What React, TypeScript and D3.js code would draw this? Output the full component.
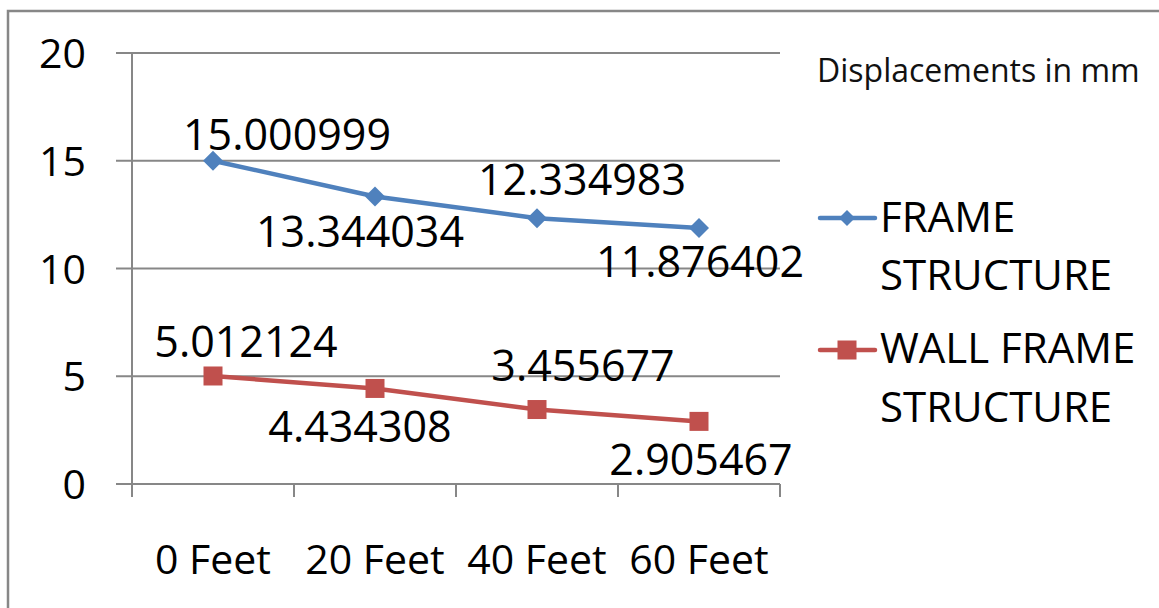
import React from "react";
import * as d3 from "d3";

// Chart data
const categories = ["0 Feet", "20 Feet", "40 Feet", "60 Feet"];
const frameValues = [15.000999, 13.344034, 12.334983, 11.876402];
const wallFrameValues = [5.012124, 4.434308, 3.455677, 2.905467];
const seriesNames = ["FRAME STRUCTURE", "WALL FRAME STRUCTURE"];
const yTicks = [0, 5, 10, 15, 20];
const chartTitle = "Displacements in mm";

// Layout
const W = 1159;
const H = 608;
const plot = { left: 132, right: 780, top: 53, bottom: 484 };
const FONT = "'Open Sans', 'Liberation Sans', sans-serif";
const BLUE = "#4F81BD";
const RED = "#C0504D";
const GRID = "#878787";

// Manual placement of the data labels (offset of the text anchor from each point)
const frameLabelOffsets = [
  [74, -11],
  [-15, 51],
  [45, -23],
  [1, 49],
];
const wallLabelOffsets = [
  [33, -19],
  [-15, 54],
  [46, -29],
  [2, 54],
];

export default function App() {
  const x = d3
    .scaleBand<string>()
    .domain(categories)
    .range([plot.left, plot.right]);
  const y = d3.scaleLinear().domain([0, 20]).range([plot.bottom, plot.top]);
  const cx = (c: string) => (x(c) ?? 0) + x.bandwidth() / 2;

  const line = d3
    .line<number>()
    .x((_, i) => cx(categories[i]))
    .y((v) => y(v));

  const boundaries = [...categories.map((c) => x(c) ?? 0), plot.right];

  const diamond = (px: number, py: number, r: number) =>
    `M${px},${py - r}L${px + r},${py}L${px},${py + r}L${px - r},${py}Z`;

  return (
    <svg
      width={W}
      height={H}
      style={{ position: "absolute", left: 0, top: 0, background: "#fff" }}
      fontFamily={FONT}
    >
      {/* chart frame */}
      <rect
        x={8}
        y={11}
        width={W + 20}
        height={H + 20}
        fill="none"
        stroke={GRID}
        strokeWidth={2.5}
      />

      {/* horizontal gridlines with left ticks */}
      {yTicks.map((t) => (
        <line
          key={"g" + t}
          x1={116}
          x2={plot.right}
          y1={y(t)}
          y2={y(t)}
          stroke={GRID}
          strokeWidth={2}
        />
      ))}
      {/* y axis */}
      <line
        x1={plot.left}
        x2={plot.left}
        y1={plot.top}
        y2={plot.bottom + 13}
        stroke={GRID}
        strokeWidth={2}
      />
      {/* category boundary ticks */}
      {boundaries.map((b, i) => (
        <line
          key={"xt" + i}
          x1={b}
          x2={b}
          y1={plot.bottom}
          y2={plot.bottom + 13}
          stroke={GRID}
          strokeWidth={2}
        />
      ))}

      {/* y tick labels */}
      {yTicks.map((t) => (
        <text
          key={"yl" + t}
          x={86}
          y={y(t) + 15}
          textAnchor="end"
          fontSize={41}
          fill="#000"
        >
          {t}
        </text>
      ))}

      {/* x category labels */}
      {categories.map((c) => (
        <text
          key={"xl" + c}
          x={cx(c)}
          y={574}
          textAnchor="middle"
          fontSize={41}
          fill="#000"
        >
          {c}
        </text>
      ))}

      {/* series lines */}
      <path d={line(frameValues) ?? ""} fill="none" stroke={BLUE} strokeWidth={4.5} strokeLinejoin="round" />
      <path d={line(wallFrameValues) ?? ""} fill="none" stroke={RED} strokeWidth={4.5} strokeLinejoin="round" />

      {/* markers */}
      {frameValues.map((v, i) => (
        <path key={"fm" + i} d={diamond(cx(categories[i]), y(v), 10)} fill={BLUE} />
      ))}
      {wallFrameValues.map((v, i) => (
        <rect
          key={"wm" + i}
          x={cx(categories[i]) - 9.5}
          y={y(v) - 9.5}
          width={19}
          height={19}
          fill={RED}
        />
      ))}

      {/* data labels */}
      {frameValues.map((v, i) => (
        <text
          key={"fl" + i}
          x={cx(categories[i]) + frameLabelOffsets[i][0]}
          y={y(v) + frameLabelOffsets[i][1]}
          textAnchor="middle"
          fontSize={43}
          fill="#000"
        >
          {v.toFixed(6)}
        </text>
      ))}
      {wallFrameValues.map((v, i) => (
        <text
          key={"wl" + i}
          x={cx(categories[i]) + wallLabelOffsets[i][0]}
          y={y(v) + wallLabelOffsets[i][1]}
          textAnchor="middle"
          fontSize={43}
          fill="#000"
        >
          {v.toFixed(6)}
        </text>
      ))}

      {/* title */}
      <text x={817} y={82} fontSize={32} fill="#111">
        {chartTitle}
      </text>

      {/* legend */}
      <line x1={820} x2={875} y1={218} y2={218} stroke={BLUE} strokeWidth={4.5} strokeLinecap="round" />
      <path d={diamond(847, 218, 8)} fill={BLUE} />
      <text x={880} y={232} fontSize={42} fill="#000">
        {seriesNames[0].split(" ")[0]}
      </text>
      <text x={880} y={290} fontSize={42} fill="#000">
        {seriesNames[0].split(" ").slice(1).join(" ")}
      </text>

      <line x1={820} x2={875} y1={350} y2={350} stroke={RED} strokeWidth={4.5} strokeLinecap="round" />
      <rect x={837.5} y={340.5} width={19} height={19} fill={RED} />
      <text x={880} y={363} fontSize={42} fill="#000">
        {seriesNames[1].split(" ").slice(0, 2).join(" ")}
      </text>
      <text x={880} y={422} fontSize={42} fill="#000">
        {seriesNames[1].split(" ").slice(2).join(" ")}
      </text>
    </svg>
  );
}
